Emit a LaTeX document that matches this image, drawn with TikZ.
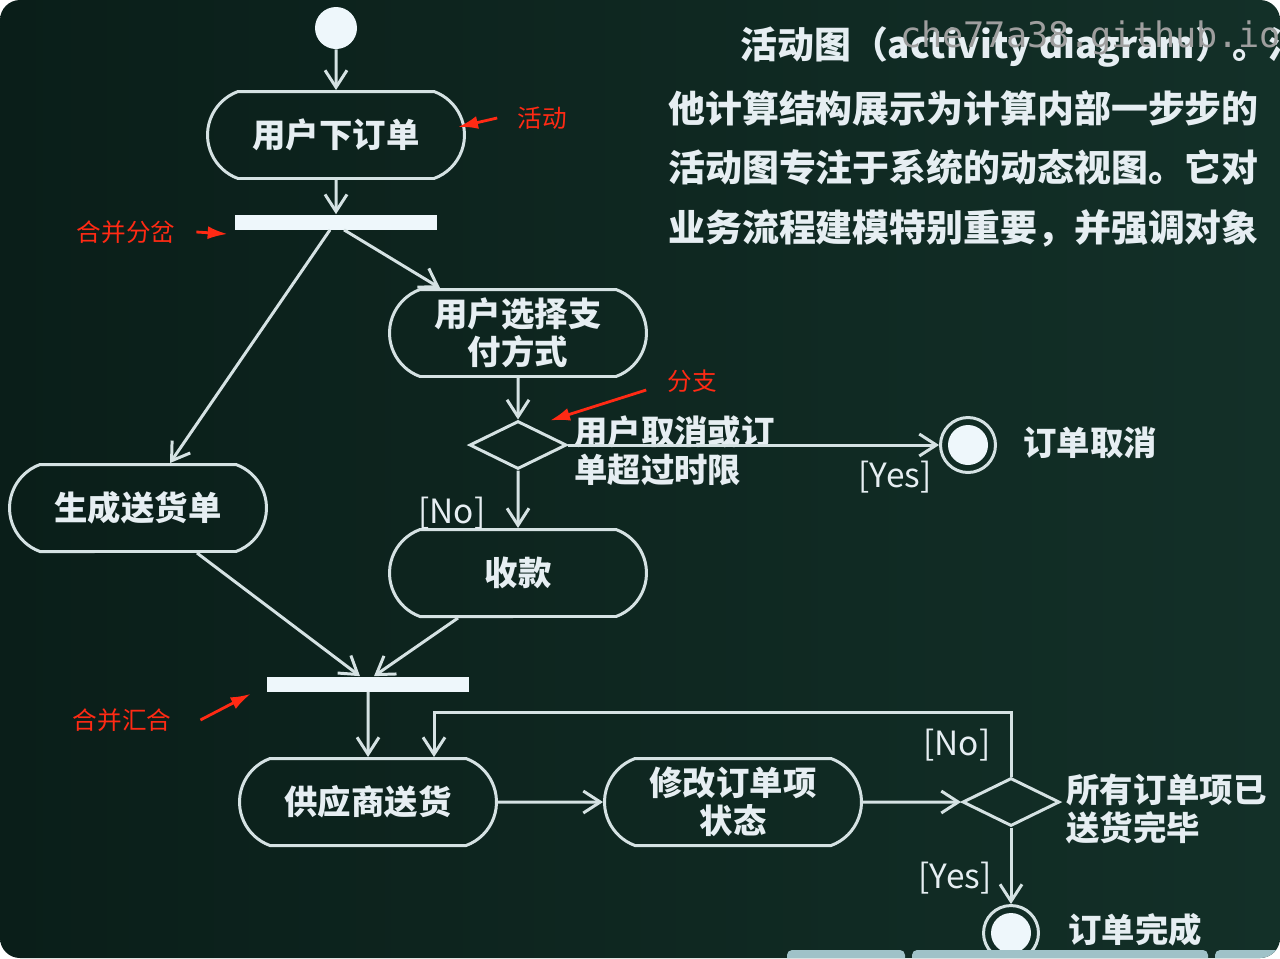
\documentclass[tikz,border=0pt]{standalone}
\usepackage{fontspec}
\setmainfont{Noto Sans CJK SC}
\newfontfamily\wmfont{DejaVu Sans Mono}
\usetikzlibrary{arrows.meta, positioning, shapes.geometric, shapes.misc, calc}

\definecolor{bgL}{HTML}{0A1E19}
\definecolor{bgR}{HTML}{133028}
\definecolor{lineC}{HTML}{D5E2E3}
\definecolor{fillC}{HTML}{EEF7FB}
\definecolor{txtC}{HTML}{E6EEF2}
\definecolor{noteRed}{HTML}{FF2A14}
\definecolor{barC}{HTML}{9FC2C8}

\begin{document}
\begin{tikzpicture}[x=0.02cm, y=-0.02cm,
  act/.style={rounded rectangle, rounded rectangle arc length=140, draw=lineC, line width=1.7pt,
    minimum width=5.14cm, minimum height=1.74cm, inner sep=0pt, align=center, text=txtC,
    font=\fontsize{19}{21.5}\selectfont\bfseries},
  syncbar/.style={fill=fillC, minimum width=4.04cm, minimum height=0.3cm, inner sep=0pt},
  decision/.style={diamond, draw=lineC, line width=1.7pt, minimum width=1.94cm, minimum height=0.96cm, inner sep=0pt},
  initnode/.style={circle, fill=fillC, minimum size=0.84cm, inner sep=0pt},
  finalnode/.style={circle, draw=lineC, line width=1.7pt, minimum size=1.1cm, inner sep=0pt,
    path picture={\fill[fillC] (path picture bounding box.center) circle[radius=0.4cm];}},
  flow/.style={draw=lineC, line width=1.7pt, -{Straight Barb[length=0.34cm, width=0.44cm]}},
  guard/.style={text=txtC, font=\fontsize{19}{21.5}\selectfont},
  cond/.style={text=txtC, font=\fontsize{19}{21.5}\selectfont\bfseries, align=left, anchor=west, inner sep=0pt},
  note/.style={text=noteRed, font=\fontsize{14}{16}\selectfont},
  notearrow/.style={noteRed, line width=1.6pt, -{Latex[length=0.4cm, width=0.26cm]}},
  headline/.style={text=txtC, font=\fontsize{21}{24}\selectfont\bfseries, anchor=west, inner sep=0pt}
]
  \useasboundingbox (0,0) rectangle (1280,958);
  \fill[white] (0,0) rectangle (1280,958);
  \begin{scope}
  \clip[rounded corners=0.4cm] (0,0) rectangle (1280,958);
  \shade[left color=bgL, right color=bgR] (0,0) rectangle (1280,958);

  % heading text
  \node[headline] (h1) at (740,47) {活动图（activity diagram）。活};
  \node[headline] (h2) at (668,108) {他计算结构展示为计算内部一步步的};
  \node[headline] (h3) at (668,167) {活动图专注于系统的动态视图。它对};
  \node[headline] (h4) at (668,228) {业务流程建模特别重要，并强调对象};
  \node[anchor=west, inner sep=0pt, text=black!38, font=\wmfont\fontsize{20}{22}\selectfont] (wm) at (900,38) {che77a38.github.io};

  % activities
  \node[initnode] (init) at (336,28) {};
  \node[act] (order) at (336,135) {用户下订单};
  \node[syncbar] (fork) at (336,222) {};
  \node[act] (pay) at (518,333) {用户选择支\\付方式};
  \node[decision] (check) at (518,445) {};
  \node[act] (collect) at (518,573) {收款};
  \node[act] (deliv) at (138,508) {生成送货单};
  \node[finalnode] (cancel) at (968,445) {};
  \node[syncbar] (join) at (368,684) {};
  \node[act] (ship) at (368,802) {供应商送货};
  \node[act] (modify) at (733,802) {修改订单项\\状态};
  \node[decision] (done) at (1011,802) {};
  \node[finalnode] (finish) at (1011,933) {};

  % texts beside the nodes
  \node[cond] (condA) at (574,451) {用户取消或订\\单超过时限};
  \node[cond] (condB) at (1066,809) {所有订单项已\\送货完毕};
  \node[guard, font=\fontsize{19}{21.5}\selectfont\bfseries] (tCancel) at (1090,443) {订单取消};
  \node[guard, font=\fontsize{19}{21.5}\selectfont\bfseries] (tFinish) at (1135,930) {订单完成};
  \node[guard] (yesA) at (895,477) {[Yes]};
  \node[guard] (noA) at (452,513) {[No]};
  \node[guard] (noB) at (957,745) {[No]};
  \node[guard] (yesB) at (955,878) {[Yes]};

  % flows
  \draw[flow] (init) -- (order);
  \draw[flow] (order) -- (fork);
  \draw[flow] ($(fork.south)+(-6,0)$) -- ($(deliv.north)+(32,0)$);
  \draw[flow] ($(fork.south)+(8,0)$) -- ($(pay.north)+(-78,0)$);
  \draw[flow] (pay) -- (check);
  \draw[flow] (check.east) -- (cancel.west);
  \draw[flow] (check) -- (collect);
  \draw[flow] ($(deliv.south)+(59,0)$) -- ($(join.north)+(-8,0)$);
  \draw[flow] ($(collect.south)+(-60,0)$) -- ($(join.north)+(6,0)$);
  \draw[flow] (join) -- (ship);
  \draw[flow] (ship) -- (modify);
  \draw[flow] (modify) -- (done);
  \draw[flow] (done.north) -- ++(0,-64) -| ($(ship.north)+(66,0)$);
  \draw[flow] (done) -- (finish);

  % red notes
  \node[note] (nAct) at (542,118) {活动};
  \draw[notearrow] ([xshift=-0.28cm]nAct.west) -- ($(order.east)+(-8,-8)$);
  \node[note] (nFork) at (126,232) {合并分岔};
  \draw[notearrow] ([xshift=0.3cm]nFork.east) -- ($(fork.west)+(-7,12)$);
  \node[note] (nBranch) at (692,381) {分支};
  \draw[notearrow] ([xshift=-0.3cm, yshift=-0.18cm]nBranch.west) -- ($(check.north)+(32,1)$);
  \node[note] (nJoin) at (122,720) {合并汇合};
  \draw[notearrow] ([xshift=0.46cm]nJoin.east) -- ($(join.south west)+(-16,2)$);

  % player bar at the bottom
  \fill[barC, rounded corners=0.1cm] (787,950) rectangle (905,970);
  \fill[barC, rounded corners=0.1cm] (912,950) rectangle (1208,970);
  \fill[barC, rounded corners=0.1cm] (1215,950) rectangle (1290,970);
  \end{scope}
\end{tikzpicture}
\end{document}
